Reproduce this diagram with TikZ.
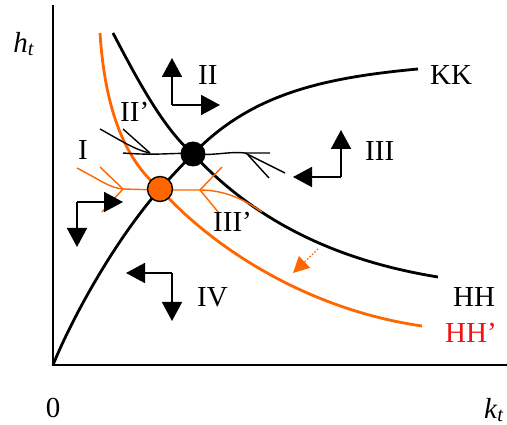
\documentclass[tikz,border=0pt]{standalone}
\usepackage{fontspec}
\setmainfont{Liberation Serif}
\usetikzlibrary{arrows.meta}
\definecolor{myorange}{RGB}{255,102,0}
\definecolor{myred}{RGB}{240,20,20}
\begin{document}
\begin{tikzpicture}[x=1pt,y=-1pt,
  lbl/.style={anchor=base west,inner sep=0pt,font=\fontsize{29}{29}\selectfont},
  curve/.style={line width=2.8pt},
  traj/.style={line width=1.4pt},
  quad/.style={line width=1.8pt,-{Triangle[length=19pt,width=20pt]}},
  dot/.style={circle,inner sep=0pt,minimum size=25pt}]
\useasboundingbox (0,0) rectangle (507,425);
% axes
\coordinate (O) at (53,365);
\coordinate (Ytop) at (53,5);
\coordinate (Xend) at (507,365);
\draw[line width=1.6pt] (Ytop) -- (O) -- (Xend);
\node[inner sep=0pt,font=\fontsize{29}{29}\selectfont] (ht) at (24,44) {\textit{h}\textsubscript{\textit{t}}};
\node[inner sep=0pt,font=\fontsize{29}{29}\selectfont] (kt) at (494,410) {\textit{k}\textsubscript{\textit{t}}};
\node[inner sep=0pt,font=\fontsize{29}{29}\selectfont] (zero) at (53,408) {0};
% KK
\draw[curve] (53,365) .. controls (72,318) and (115,240) .. (160,189)
  .. controls (171,177) and (182,165) .. (193,154)
  .. controls (250,95) and (320,78) .. (418,69);
% HH
\draw[curve] (113,33) .. controls (140,85) and (165,130) .. (193,154)
  .. controls (245,210) and (320,258) .. (438,277);
% HH'
\draw[curve,myorange] (100,33) .. controls (105,110) and (125,160) .. (160,189)
  .. controls (215,250) and (310,310) .. (422,326);
% black trajectories
\draw[traj] (100,129) .. controls (120,140) and (135,150) .. (150,153);
\draw[traj] (123,129) -- (150,153);
\draw[traj] (123,153) .. controls (160,156) and (175,152) .. (193,154)
  .. controls (215,156) and (230,151) .. (245,153) -- (270,153);
\draw[traj] (245,153) -- (285,173);
\draw[traj] (248,155) -- (269,178);
% orange trajectories
\draw[traj,myorange] (77,168) .. controls (100,180) and (110,188) .. (123,189) -- (160,190) -- (200,190) .. controls (225,190) and (245,200) .. (262,212);
\draw[traj,myorange] (100,167) -- (123,189) -- (102,212);
\draw[traj,myorange] (222,167) -- (200,190) -- (219,213);
% equilibria
\node[dot,fill=black] (E) at (193,154) {};
\node[dot,fill=myorange,draw=black,line width=1.4pt] (Ep) at (160,189) {};
% quadrant arrows
\coordinate (cII) at (172,105);
\coordinate (uII) at (172,58);
\coordinate (rII) at (220,105);
\draw[quad] (cII) -- (uII);
\draw[quad] (cII) -- (rII);
\coordinate (cIII) at (341,177);
\coordinate (uIII) at (341,130);
\coordinate (lIII) at (293,177);
\draw[quad] (cIII) -- (uIII);
\draw[quad] (cIII) -- (lIII);
\coordinate (cI) at (77,202);
\coordinate (rI) at (123,202);
\coordinate (dI) at (77,247);
\draw[quad] (cI) -- (rI);
\draw[quad] (cI) -- (dI);
\coordinate (cIV) at (172,273);
\coordinate (lIV) at (126,273);
\coordinate (dIV) at (172,321);
\draw[quad] (cIV) -- (lIV);
\draw[quad] (cIV) -- (dIV);
% shift arrow
\coordinate (s1) at (318,249);
\coordinate (s2) at (293,273);
\draw[myorange,line width=1.4pt,dotted,-{Triangle[length=16pt,width=16pt]}] (s1) -- (s2);
% labels
\node[lbl] (KK) at (430,85) {KK};
\node[lbl] (HH) at (453,307) {HH};
\node[lbl,text=myred] (HHp) at (445,343) {HH’};
\node[lbl] (II) at (198,85) {II};
\node[lbl] (III) at (365,161) {III};
\node[lbl] (I) at (78,160) {I};
\node[lbl] (IIp) at (120,122) {II’};
\node[lbl] (IIIp) at (213,232) {III’};
\node[lbl] (IV) at (197,307) {IV};
\end{tikzpicture}
\end{document}
